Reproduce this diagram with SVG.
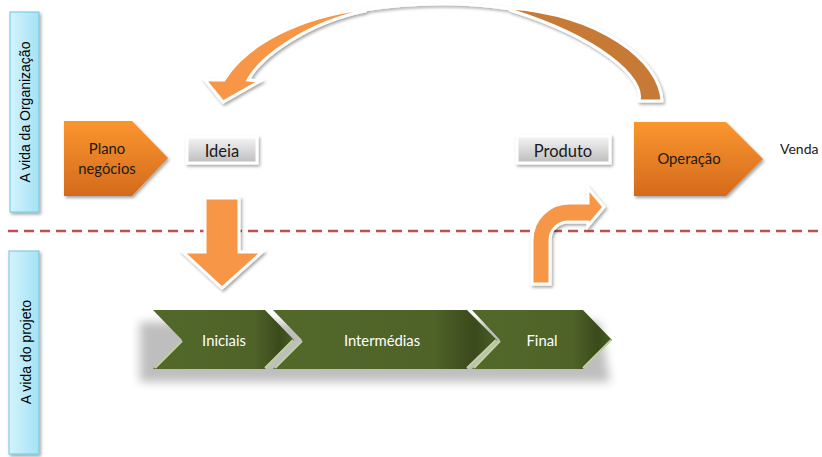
<svg xmlns="http://www.w3.org/2000/svg" width="822" height="457" viewBox="0 0 822 457">
<defs>
<style>
.lbl{font-family:"Liberation Sans",Arial,sans-serif;font-size:14px;fill:#000;text-anchor:middle}
.t{font-family:Lato,"Open Sans",sans-serif;fill:#1a1a1a;text-anchor:middle}
.tw{font-family:Lato,"Open Sans",sans-serif;fill:#fff;text-anchor:middle;font-size:14.8px}
.arr{fill:#F79646;stroke:#fff;stroke-width:3;stroke-linejoin:miter}
.bluebox{fill:url(#gBlue);stroke:#6FC6E2;stroke-width:1}
.box{fill:url(#gGrey);stroke:#fff;stroke-width:3}
.pent{fill:url(#gOrange)}
.chev{fill:url(#gGreen)}
.bev{fill:none;stroke:#C3D69B;stroke-width:2}
</style>
<linearGradient id="gBlue" x1="0" y1="0" x2="1" y2="0">
<stop offset="0" stop-color="#D3F3FC"/><stop offset="1" stop-color="#A5E2F5"/>
</linearGradient>
<linearGradient id="gGrey" x1="0" y1="0" x2="0" y2="1">
<stop offset="0" stop-color="#F5F5F5"/><stop offset="1" stop-color="#BDBDBD"/>
</linearGradient>
<linearGradient id="gOrange" x1="0" y1="0" x2="0" y2="1">
<stop offset="0" stop-color="#FA962F"/><stop offset="1" stop-color="#D46A1C"/>
</linearGradient>
<linearGradient id="gGreen" x1="0" y1="0" x2="1" y2="0">
<stop offset="0" stop-color="#52692A"/><stop offset="0.72" stop-color="#4F6228"/><stop offset="0.9" stop-color="#3A4A1C"/><stop offset="1" stop-color="#4A5D25"/>
</linearGradient>
<filter id="sh" x="-20%" y="-20%" width="140%" height="150%">
<feDropShadow dx="1.5" dy="2" stdDeviation="1.8" flood-color="#000" flood-opacity="0.35"/>
</filter>
<filter id="blur" x="-20%" y="-50%" width="140%" height="200%">
<feGaussianBlur stdDeviation="5"/>
</filter>
</defs>

<g id="label-organizacao">
<rect class="bluebox" x="10" y="12" width="29" height="200" filter="url(#sh)"/>
<text class="lbl" transform="translate(30,112) rotate(-90)">A vida da Organização</text>
</g>
<g id="label-projeto">
<rect class="bluebox" x="9" y="251" width="30" height="203" filter="url(#sh)"/>
<text class="lbl" transform="translate(31,352) rotate(-90)">A vida do projeto</text>
</g>

<g id="separator">
<line x1="8" y1="231" x2="822" y2="231" stroke="#C0504D" stroke-width="2.5" stroke-dasharray="10 6"/>
</g>

<g id="plano">
<path class="pent" d="M64,121 L132,121 L168,158 L132,196 L64,196 Z" filter="url(#sh)"/>
<text class="t" x="107" y="154" font-size="14.8">Plano</text>
<text class="t" x="107" y="174" font-size="14.8">negócios</text>
</g>

<g id="ideia">
<rect class="box" x="187" y="137" width="70" height="26" filter="url(#sh)"/>
<text class="t" x="222" y="157" font-size="16.5">Ideia</text>
</g>

<g id="produto">
<rect class="box" x="517" y="136" width="93" height="27" filter="url(#sh)"/>
<text class="t" x="563" y="157" font-size="16.5">Produto</text>
</g>

<g id="operacao">
<path class="pent" d="M634,122 L726,122 L763,159 L726,196 L634,196 Z" filter="url(#sh)"/>
<text class="t" x="689" y="164" font-size="14.8">Operação</text>
</g>

<g id="venda">
<text class="t" x="780" y="154" font-size="14" style="text-anchor:start">Venda</text>
</g>

<g id="fases">
<path d="M140,322 L600,322 L610,382 L140,382 Z" fill="#8a8a8a" opacity="0.55" filter="url(#blur)"/>
<g id="iniciais">
<path class="chev" d="M153,310 L265,310 L294,340 L265,369 L153,369 L182,340 Z"/>
<path class="bev" d="M155,368 L182,341 M265,368 L293,340"/>
<text class="tw" x="224" y="346">Iniciais</text>
</g>
<g id="intermedias">
<path class="chev" d="M273,310 L467,310 L497,340 L467,369 L273,369 L302,340 Z"/>
<path class="bev" d="M275,368 L302,341 M467,368 L496,340"/>
<text class="tw" x="382" y="346">Intermédias</text>
</g>
<g id="final">
<path class="chev" d="M472,310 L583,310 L612,340 L583,369 L472,369 L500,340 Z"/>
<path class="bev" d="M474,368 L500,341 M583,368 L611,340"/>
<text class="tw" x="542" y="346">Final</text>
</g>
</g>

<g id="connectors">
<g id="ciclo" filter="url(#sh)">
<path d="M363,10 Q440,-2 512,9" fill="none" stroke="#fff" stroke-width="3"/>
<path d="M510,8 C600,15 660,60 662,101 L639,101 C645,78 600,38 510,10 Z" fill="#C77A36" stroke="#fff" stroke-width="3" stroke-linejoin="round"/>
<path class="arr" d="M365,9 C300,16 245,45 224,80 L205,80 L223,102 L260,81 L248,80 C262,55 310,22 365,11 Z"/>
</g>
<path id="ideia-iniciais" class="arr" filter="url(#sh)" d="M205,198 L239,198 L239,252 L262,252 L222,288 L183,252 L205,252 Z"/>
<path id="final-operacao" class="arr" filter="url(#sh)" d="M532,284 L532,240 A37,37 0 0 1 569,203 L588,203 L588,188 L604,207 L588,226 L588,222 L568,222 A18,18 0 0 0 550,240 L550,284 Z"/>
</g>
</svg>
